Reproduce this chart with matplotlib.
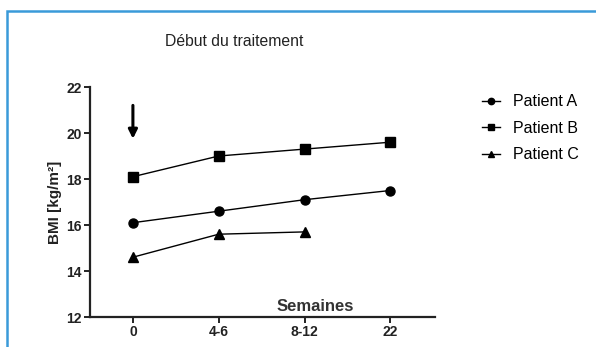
import matplotlib
matplotlib.use('Agg')
import matplotlib.pyplot as plt
from matplotlib.patches import Rectangle

plt.rcParams['font.family'] = ['Liberation Sans', 'DejaVu Sans']

# data
weeks = ['0', '4-6', '8-12', '22']
patient_a = [16.1, 16.6, 17.1, 17.5]
patient_b = [18.1, 19.0, 19.3, 19.6]
patient_c = [14.6, 15.6, 15.7]

fig = plt.figure(figsize=(5.96, 3.47), dpi=100)
ax = fig.add_axes([90/596, 1-317/347, (435-90)/596, (317-87)/347])

x = list(range(len(weeks)))
la, = ax.plot(x, patient_a, '-o', color='black', lw=1, ms=6.5, label='Patient A')
lb, = ax.plot(x, patient_b, '-s', color='black', lw=1, ms=7, label='Patient B')
lc, = ax.plot(x[:len(patient_c)], patient_c, '-^', color='black', lw=1, ms=6.5, label='Patient C')

ax.set_xlim(-0.5, 3.52)
ax.set_ylim(12, 22)
ax.set_yticks([12, 14, 16, 18, 20, 22])
ax.set_xticks(x)
ax.set_xticklabels(weeks)
for s in ['top', 'right']:
    ax.spines[s].set_visible(False)
for s in ['left', 'bottom']:
    ax.spines[s].set_linewidth(1.6)
    ax.spines[s].set_color('#222222')
ax.tick_params(length=4, width=1.4, labelsize=10, colors='#222222', pad=2)
for t in ax.get_xticklabels() + ax.get_yticklabels():
    t.set_fontweight('bold')

ax.set_ylabel('BMI [kg/m²]', fontsize=11, fontweight='bold', labelpad=3,
              color='#222222')
ax.text(2.12, 12.25, 'Semaines', fontsize=12, fontweight='bold', ha='center',
        color='#333333')

# start of treatment arrow
ax.annotate('', xy=(0, 19.75), xytext=(0, 21.2),
            arrowprops=dict(arrowstyle='-|>', color='black', lw=2.2,
                            mutation_scale=13, shrinkA=0, shrinkB=0))
fig.text(165/596, 1-41/347, 'Début du traitement', fontsize=11.3, va='center',
         color='#222222')

fig.legend(handles=[la, lb, lc], loc='upper left',
           bbox_to_anchor=(468/596, 1-80/347), frameon=False, fontsize=11.5,
           handlelength=1.1, handletextpad=0.8, labelspacing=0.72,
           markerscale=0.7)

# blue frame around the figure
fig.patches.append(Rectangle((7.5/596, -0.2), 1.2, 1-10.5/347+0.2,
                             transform=fig.transFigure, fill=False,
                             edgecolor='#3a9ad9', lw=1.8, clip_on=False))

fig.savefig('out.png', dpi=100)
